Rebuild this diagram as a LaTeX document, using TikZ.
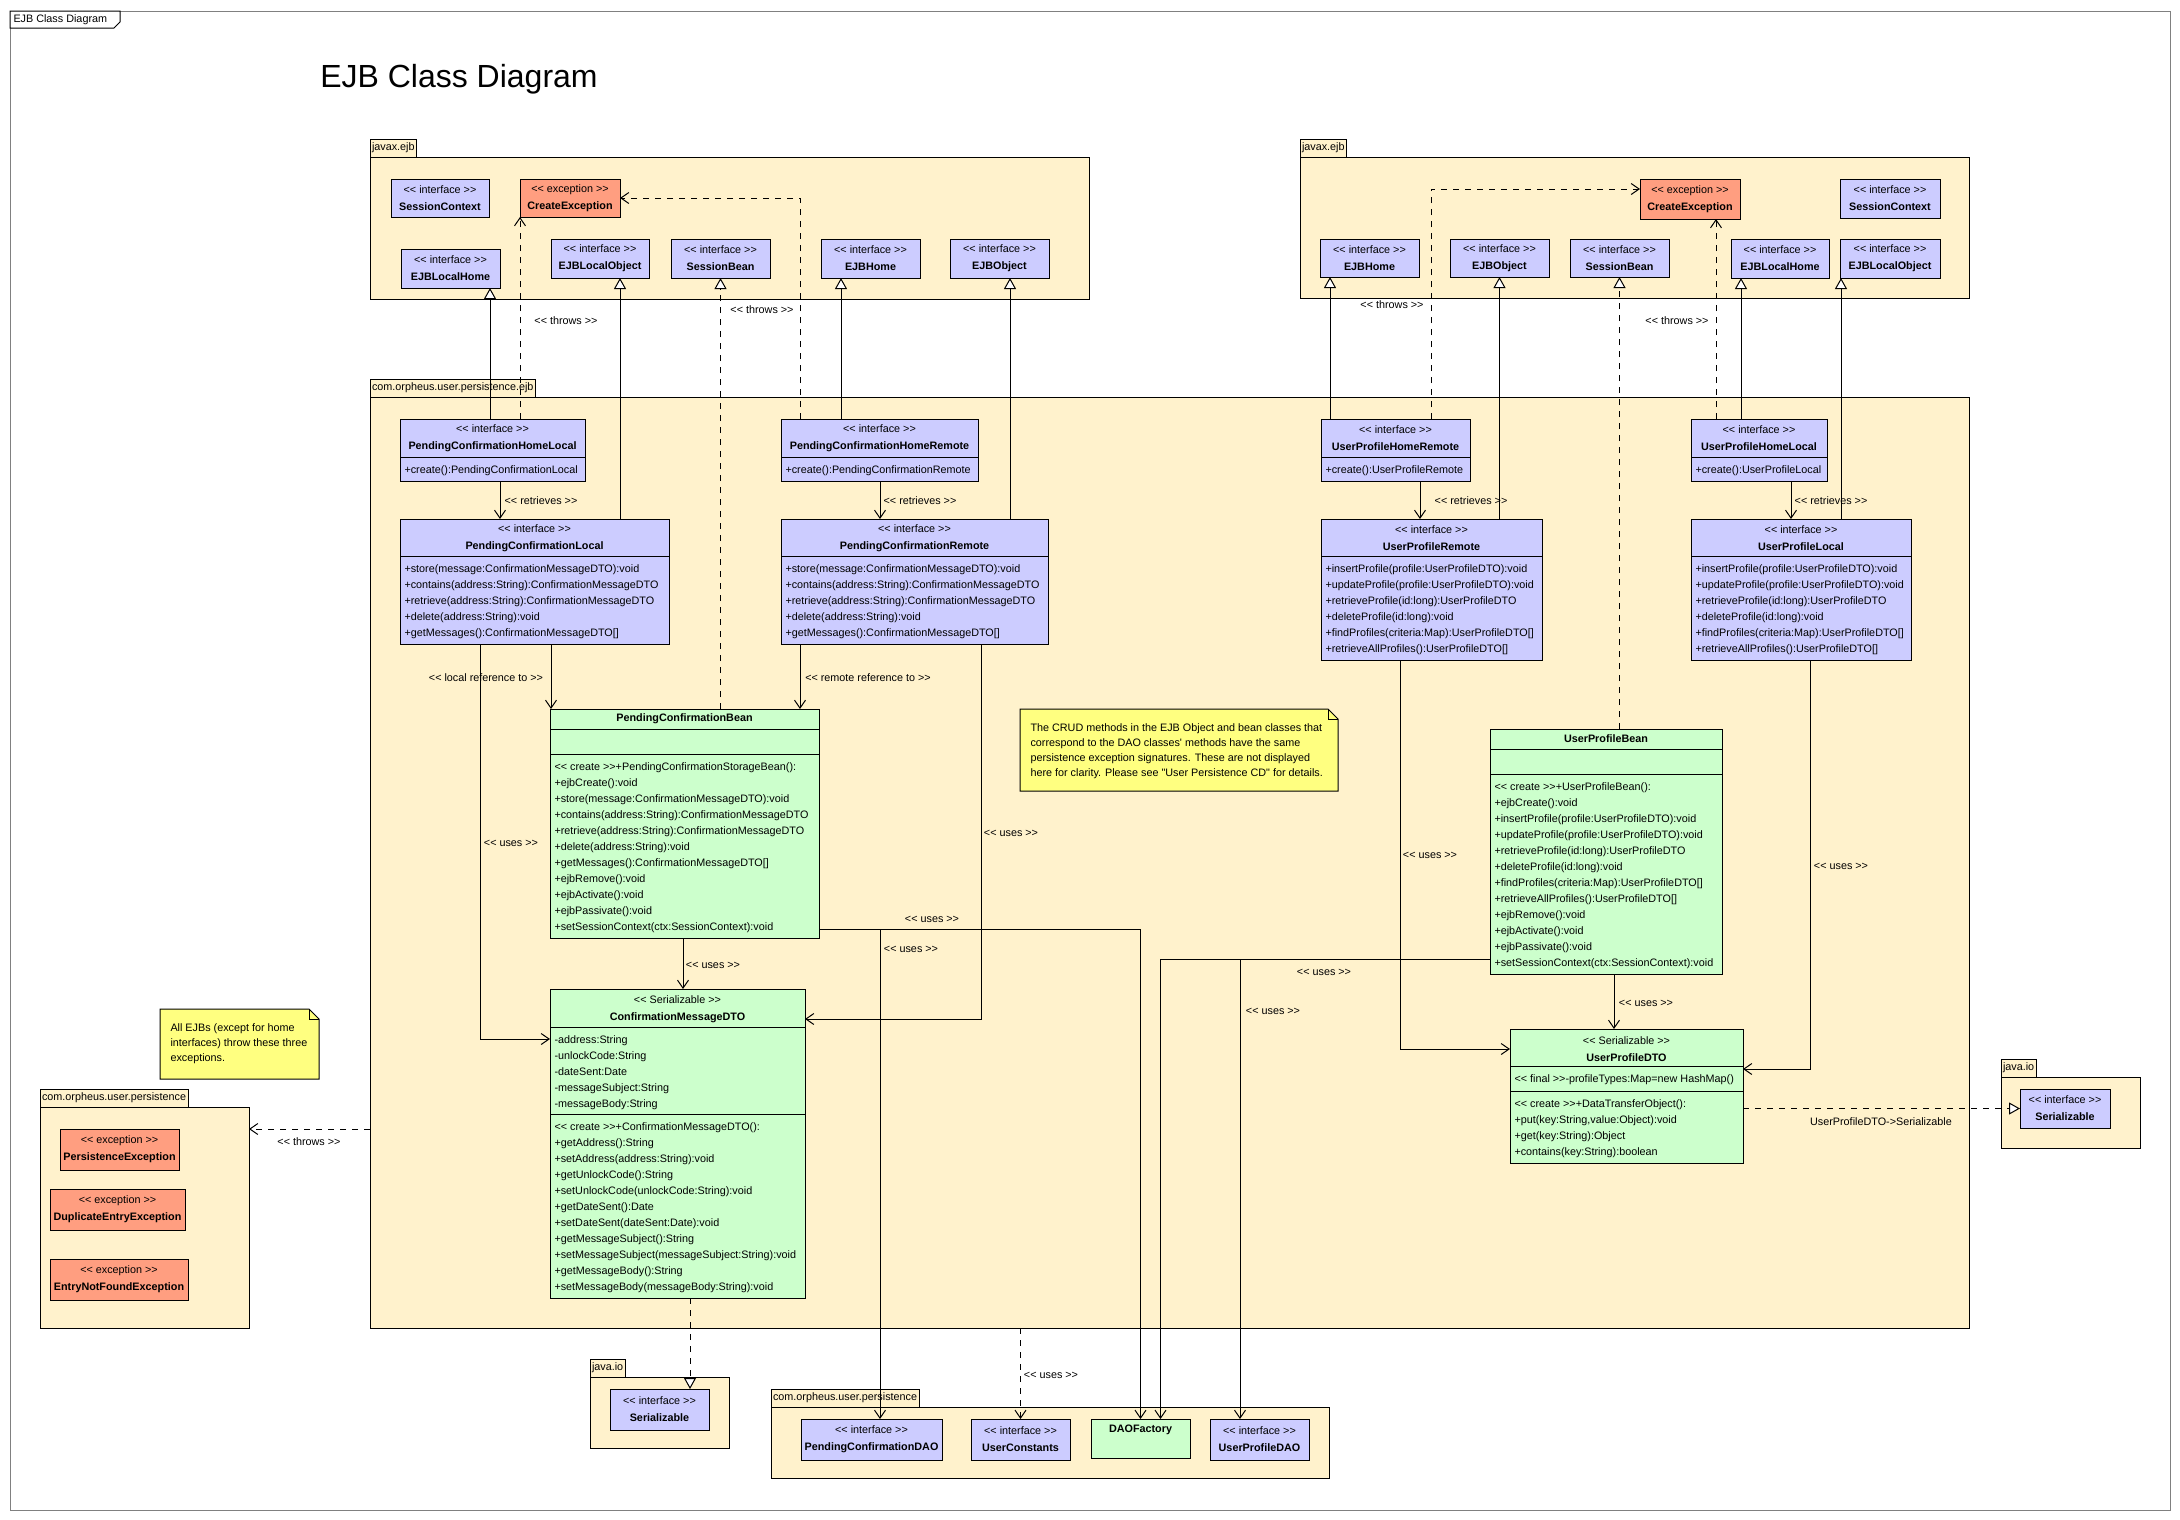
\documentclass[tikz,border=0pt]{standalone}
\usepackage{fontspec}
\setmainfont{Liberation Sans}[Ligatures=TeXOff]
\usepackage{tikz}
\usetikzlibrary{arrows.meta,positioning}

\definecolor{pkgfill}{RGB}{255,242,204}
\definecolor{ifacefill}{RGB}{204,204,255}
\definecolor{excfill}{RGB}{255,158,128}
\definecolor{beanfill}{RGB}{204,255,204}
\definecolor{notefill}{RGB}{255,255,128}
\definecolor{framegray}{RGB}{128,128,128}

\newcommand{\stereo}[1]{<< #1 >>}

\begin{document}
\begin{tikzpicture}[x=1pt,y=-1pt,line width=1pt,
  font=\fontsize{10.8}{16}\selectfont,
  box/.style 2 args={minimum width=#1,minimum height=#2,anchor=north west,inner sep=0pt,outer sep=0pt},
  pkg/.style={draw,fill=pkgfill},
  tab/.style={draw,fill=pkgfill,inner xsep=2pt,inner ysep=0pt,minimum height=18pt,outer sep=0pt},
  iface/.style={draw,fill=ifacefill,align=center,font=\fontsize{10.8}{17}\selectfont},
  exc/.style={draw,fill=excfill,align=center,font=\fontsize{10.8}{17}\selectfont},
  bean/.style={draw,fill=beanfill},
  head/.style={align=center,inner sep=0pt,font=\fontsize{10.8}{17}\selectfont},
  ops/.style={anchor=north west,align=left,inner xsep=4pt,inner ysep=8pt},
  notetext/.style={anchor=north west,align=left,inner sep=0pt,font=\fontsize{10.8}{15}\selectfont},
  lbl/.style={inner sep=0pt},
  dashes/.style={dash pattern=on 6pt off 6pt},
  gen/.style={-{Triangle[length=11pt,width=12pt,fill=white]}},
  real/.style={gen,dashes},
  dep/.style={-{Straight Barb[length=8pt,width=11pt]}},
  dashdep/.style={dep,dashes}
]
\useasboundingbox (0,0) rectangle (2180,1519);

% frame
\draw[framegray] (10,11) rectangle (2170,1510);
\draw[fill=white] (10,11) -- (120,11) -- (120,22) -- (114,28) -- (10,28) -- cycle;
\node[anchor=west,inner sep=0pt] (frametitle) at (13,20) {EJB Class Diagram};
\node[inner sep=0pt,font=\fontsize{32}{38}\selectfont] (title) at (459,79) {EJB Class Diagram};

% packages
\node[pkg,box={719pt}{142pt}] (jl) at (370,157) {};
\node[tab,above right=0pt of jl.north west] (jltab) {javax.ejb};
\node[pkg,box={669pt}{141pt}] (jr) at (1300,157) {};
\node[tab,above right=0pt of jr.north west] (jrtab) {javax.ejb};
\node[pkg,box={1599pt}{931pt}] (ejb) at (370,397) {};
\node[tab,above right=0pt of ejb.north west] (ejbtab) {com.orpheus.user.persistence.ejb};
\node[pkg,box={209pt}{221pt}] (pers) at (40,1107) {};
\node[tab,above right=0pt of pers.north west] (perstab) {com.orpheus.user.persistence};
\node[pkg,box={139pt}{71pt}] (jio) at (590,1377) {};
\node[tab,above right=0pt of jio.north west] (jiotab) {java.io};
\node[pkg,box={558pt}{71pt}] (dao) at (771,1407) {};
\node[tab,above right=0pt of dao.north west] (daotab) {com.orpheus.user.persistence};
\node[pkg,box={139pt}{71pt}] (jio2) at (2001,1077) {};
\node[tab,above right=0pt of jio2.north west] (jio2tab) {java.io};

% javax.ejb, left
\node[iface,box={98pt}{38pt}] (sc1) at (391,179) {\stereo{interface}\\\textbf{SessionContext}};
\node[exc,box={100pt}{38pt}] (ce1) at (520,179) {\stereo{exception}\\\textbf{CreateException}};
\node[iface,box={99pt}{39pt}] (elh1) at (401,249) {\stereo{interface}\\\textbf{EJBLocalHome}};
\node[iface,box={98pt}{39pt}] (elo1) at (551,239) {\stereo{interface}\\\textbf{EJBLocalObject}};
\node[iface,box={99pt}{39pt}] (sb1) at (671,239) {\stereo{interface}\\\textbf{SessionBean}};
\node[iface,box={99pt}{39pt}] (eh1) at (821,239) {\stereo{interface}\\\textbf{EJBHome}};
\node[iface,box={99pt}{39pt}] (eo1) at (950,239) {\stereo{interface}\\\textbf{EJBObject}};

% javax.ejb, right
\node[exc,box={100pt}{40pt}] (ce2) at (1640,179) {\stereo{exception}\\\textbf{CreateException}};
\node[iface,box={100pt}{39pt}] (sc2) at (1840,179) {\stereo{interface}\\\textbf{SessionContext}};
\node[iface,box={99pt}{38pt}] (eh2) at (1320,239) {\stereo{interface}\\\textbf{EJBHome}};
\node[iface,box={99pt}{38pt}] (eo2) at (1450,239) {\stereo{interface}\\\textbf{EJBObject}};
\node[iface,box={99pt}{38pt}] (sb2) at (1570,239) {\stereo{interface}\\\textbf{SessionBean}};
\node[iface,box={98pt}{39pt}] (elh2) at (1731,239) {\stereo{interface}\\\textbf{EJBLocalHome}};
\node[iface,box={100pt}{39pt}] (elo2) at (1840,239) {\stereo{interface}\\\textbf{EJBLocalObject}};

% pending confirmation
\node[iface,box={185pt}{62pt}] (pchl) at (400,419) {};
\node[head] (pchlh) at ([yshift=-19pt]pchl.north) {\stereo{interface}\\\textbf{PendingConfirmationHomeLocal}};
\draw ([yshift=-38pt]pchl.north west) -- ([yshift=-38pt]pchl.north east);
\node[ops] (pchlo) at ([yshift=-38pt]pchl.north west) {+create():PendingConfirmationLocal};

\node[iface,box={269pt}{125pt}] (pcl) at (400,519) {};
\node[head] (pclh) at ([yshift=-19pt]pcl.north) {\stereo{interface}\\\textbf{PendingConfirmationLocal}};
\draw ([yshift=-37pt]pcl.north west) -- ([yshift=-37pt]pcl.north east);
\node[ops] (pclo) at ([yshift=-37pt]pcl.north west) {+store(message:ConfirmationMessageDTO):void\\+contains(address:String):ConfirmationMessageDTO\\+retrieve(address:String):ConfirmationMessageDTO\\+delete(address:String):void\\+getMessages():ConfirmationMessageDTO[]};

\node[iface,box={197pt}{62pt}] (pchr) at (781,419) {};
\node[head] (pchrh) at ([yshift=-19pt]pchr.north) {\stereo{interface}\\\textbf{PendingConfirmationHomeRemote}};
\draw ([yshift=-38pt]pchr.north west) -- ([yshift=-38pt]pchr.north east);
\node[ops] (pchro) at ([yshift=-38pt]pchr.north west) {+create():PendingConfirmationRemote};

\node[iface,box={267pt}{125pt}] (pcr) at (781,519) {};
\node[head] (pcrh) at ([yshift=-19pt]pcr.north) {\stereo{interface}\\\textbf{PendingConfirmationRemote}};
\draw ([yshift=-37pt]pcr.north west) -- ([yshift=-37pt]pcr.north east);
\node[ops] (pcro) at ([yshift=-37pt]pcr.north west) {+store(message:ConfirmationMessageDTO):void\\+contains(address:String):ConfirmationMessageDTO\\+retrieve(address:String):ConfirmationMessageDTO\\+delete(address:String):void\\+getMessages():ConfirmationMessageDTO[]};

\node[bean,box={269pt}{229pt}] (pcb) at (550,709) {};
\node[head] (pcbh) at ([yshift=-10pt]pcb.north) {\textbf{PendingConfirmationBean}};
\draw ([yshift=-20pt]pcb.north west) -- ([yshift=-20pt]pcb.north east);
\draw ([yshift=-45pt]pcb.north west) -- ([yshift=-45pt]pcb.north east);
\node[ops] (pcbo) at ([yshift=-45pt]pcb.north west) {\stereo{create}+PendingConfirmationStorageBean():\\+ejbCreate():void\\+store(message:ConfirmationMessageDTO):void\\+contains(address:String):ConfirmationMessageDTO\\+retrieve(address:String):ConfirmationMessageDTO\\+delete(address:String):void\\+getMessages():ConfirmationMessageDTO[]\\+ejbRemove():void\\+ejbActivate():void\\+ejbPassivate():void\\+setSessionContext(ctx:SessionContext):void};

\node[bean,box={255pt}{309pt}] (cmdto) at (550,989) {};
\node[head] (cmdtoh) at ([yshift=-20pt]cmdto.north) {\stereo{Serializable}\\\textbf{ConfirmationMessageDTO}};
\draw ([yshift=-38pt]cmdto.north west) -- ([yshift=-38pt]cmdto.north east);
\node[ops] (cmdtoa) at ([yshift=-38pt]cmdto.north west) {-address:String\\-unlockCode:String\\-dateSent:Date\\-messageSubject:String\\-messageBody:String};
\draw ([yshift=-125pt]cmdto.north west) -- ([yshift=-125pt]cmdto.north east);
\node[ops] (cmdtoo) at ([yshift=-125pt]cmdto.north west) {\stereo{create}+ConfirmationMessageDTO():\\+getAddress():String\\+setAddress(address:String):void\\+getUnlockCode():String\\+setUnlockCode(unlockCode:String):void\\+getDateSent():Date\\+setDateSent(dateSent:Date):void\\+getMessageSubject():String\\+setMessageSubject(messageSubject:String):void\\+getMessageBody():String\\+setMessageBody(messageBody:String):void};

% user profile
\node[iface,box={149pt}{62pt}] (uphr) at (1321,419) {};
\node[head] (uphrh) at ([yshift=-19pt]uphr.north) {\stereo{interface}\\\textbf{UserProfileHomeRemote}};
\draw ([yshift=-38pt]uphr.north west) -- ([yshift=-38pt]uphr.north east);
\node[ops] (uphro) at ([yshift=-38pt]uphr.north west) {+create():UserProfileRemote};

\node[iface,box={221pt}{141pt}] (upr) at (1321,519) {};
\node[head] (uprh) at ([yshift=-19pt]upr.north) {\stereo{interface}\\\textbf{UserProfileRemote}};
\draw ([yshift=-37pt]upr.north west) -- ([yshift=-37pt]upr.north east);
\node[ops] (upro) at ([yshift=-37pt]upr.north west) {+insertProfile(profile:UserProfileDTO):void\\+updateProfile(profile:UserProfileDTO):void\\+retrieveProfile(id:long):UserProfileDTO\\+deleteProfile(id:long):void\\+findProfiles(criteria:Map):UserProfileDTO[]\\+retrieveAllProfiles():UserProfileDTO[]};

\node[iface,box={136pt}{62pt}] (uphl) at (1691,419) {};
\node[head] (uphlh) at ([yshift=-19pt]uphl.north) {\stereo{interface}\\\textbf{UserProfileHomeLocal}};
\draw ([yshift=-38pt]uphl.north west) -- ([yshift=-38pt]uphl.north east);
\node[ops] (uphlo) at ([yshift=-38pt]uphl.north west) {+create():UserProfileLocal};

\node[iface,box={220pt}{141pt}] (upl) at (1691,519) {};
\node[head] (uplh) at ([yshift=-19pt]upl.north) {\stereo{interface}\\\textbf{UserProfileLocal}};
\draw ([yshift=-37pt]upl.north west) -- ([yshift=-37pt]upl.north east);
\node[ops] (uplo) at ([yshift=-37pt]upl.north west) {+insertProfile(profile:UserProfileDTO):void\\+updateProfile(profile:UserProfileDTO):void\\+retrieveProfile(id:long):UserProfileDTO\\+deleteProfile(id:long):void\\+findProfiles(criteria:Map):UserProfileDTO[]\\+retrieveAllProfiles():UserProfileDTO[]};

\node[bean,box={232pt}{245pt}] (upb) at (1490,729) {};
\node[head] (upbh) at ([yshift=-10pt]upb.north) {\textbf{UserProfileBean}};
\draw ([yshift=-20pt]upb.north west) -- ([yshift=-20pt]upb.north east);
\draw ([yshift=-45pt]upb.north west) -- ([yshift=-45pt]upb.north east);
\node[ops] (upbo) at ([yshift=-45pt]upb.north west) {\stereo{create}+UserProfileBean():\\+ejbCreate():void\\+insertProfile(profile:UserProfileDTO):void\\+updateProfile(profile:UserProfileDTO):void\\+retrieveProfile(id:long):UserProfileDTO\\+deleteProfile(id:long):void\\+findProfiles(criteria:Map):UserProfileDTO[]\\+retrieveAllProfiles():UserProfileDTO[]\\+ejbRemove():void\\+ejbActivate():void\\+ejbPassivate():void\\+setSessionContext(ctx:SessionContext):void};

\node[bean,box={233pt}{134pt}] (updto) at (1510,1029) {};
\node[head] (updtoh) at ([yshift=-20pt]updto.north) {\stereo{Serializable}\\\textbf{UserProfileDTO}};
\draw ([yshift=-37pt]updto.north west) -- ([yshift=-37pt]updto.north east);
\node[ops] (updtoa) at ([yshift=-37pt]updto.north west) {\stereo{final}-profileTypes:Map=new HashMap()};
\draw ([yshift=-62pt]updto.north west) -- ([yshift=-62pt]updto.north east);
\node[ops] (updtoo) at ([yshift=-62pt]updto.north west) {\stereo{create}+DataTransferObject():\\+put(key:String,value:Object):void\\+get(key:String):Object\\+contains(key:String):boolean};

% notes
\node[box={318pt}{82pt}] (crud) at (1020,709) {};
\filldraw[fill=notefill] (crud.north west) -- ([xshift=-10pt]crud.north east) -- ([yshift=-10pt]crud.north east) -- (crud.south east) -- (crud.south west) -- cycle;
\draw ([xshift=-10pt]crud.north east) |- ([yshift=-10pt]crud.north east);
\node[notetext] (crudtxt) at ([xshift=10pt,yshift=-14pt]crud.north west) {The CRUD methods in the EJB Object and bean classes that\\correspond to the DAO classes' methods have the same\\persistence exception signatures. These are not displayed\\here for clarity. Please see "User Persistence CD" for details.};

\node[box={159pt}{70pt}] (allejb) at (160,1009) {};
\filldraw[fill=notefill] (allejb.north west) -- ([xshift=-10pt]allejb.north east) -- ([yshift=-10pt]allejb.north east) -- (allejb.south east) -- (allejb.south west) -- cycle;
\draw ([xshift=-10pt]allejb.north east) |- ([yshift=-10pt]allejb.north east);
\node[notetext] (allejbtxt) at ([xshift=10pt,yshift=-14pt]allejb.north west) {All EJBs (except for home\\interfaces) throw these three\\exceptions.};

% exceptions
\node[exc,box={119pt}{41pt}] (pe) at (60,1129) {\stereo{exception}\\\textbf{PersistenceException}};
\node[exc,box={135pt}{41pt}] (dee) at (50,1189) {\stereo{exception}\\\textbf{DuplicateEntryException}};
\node[exc,box={138pt}{41pt}] (enfe) at (50,1259) {\stereo{exception}\\\textbf{EntryNotFoundException}};

% java.io and dao
\node[iface,box={99pt}{41pt}] (ser1) at (610,1389) {\stereo{interface}\\\textbf{Serializable}};
\node[iface,box={90pt}{39pt}] (ser2) at (2020,1089) {\stereo{interface}\\\textbf{Serializable}};
\node[iface,box={141pt}{41pt}] (pcdao) at (801,1419) {\stereo{interface}\\\textbf{PendingConfirmationDAO}};
\node[iface,box={99pt}{41pt}] (uc) at (971,1419) {\stereo{interface}\\\textbf{UserConstants}};
\node[bean,box={99pt}{39pt}] (daof) at (1091,1419) {};
\node[head] (daofh) at ([yshift=-11pt]daof.north) {\textbf{DAOFactory}};
\node[iface,box={99pt}{41pt}] (updao) at (1210,1419) {\stereo{interface}\\\textbf{UserProfileDAO}};

% connectors, left
\draw[gen] ([xshift=90pt]pchl.north west) -- ([xshift=90pt]pchl.north west |- elh1.south);
\draw[dashdep] (ce1.south west |- pchl.north) -- (ce1.south west);
\draw[gen] ([xshift=220pt]pcl.north west) -- ([xshift=220pt]pcl.north west |- elo1.south);
\draw[real] (sb1.south |- pcb.north) -- (sb1.south);
\draw[gen] ([xshift=60pt]pchr.north west) -- ([xshift=60pt]pchr.north west |- eh1.south);
\draw[dashdep] ([xshift=19pt]pchr.north west) |- (ce1.east);
\draw[gen] ([xshift=229pt]pcr.north west) -- ([xshift=229pt]pcr.north west |- eo1.south);
\draw[dep] ([xshift=100pt]pchl.south west) -- ([xshift=100pt]pcl.north west);
\draw[dep] ([xshift=99pt]pchr.south west) -- ([xshift=99pt]pcr.north west);
\draw[dep] ([xshift=151pt]pcl.south west) -- ([xshift=151pt]pcl.south west |- pcb.north);
\draw[dep] ([xshift=19pt]pcr.south west) -- ([xshift=19pt]pcr.south west |- pcb.north);
\draw[dep] ([xshift=80pt]pcl.south west) |- ([yshift=-50pt]cmdto.north west);
\draw[dep] ([xshift=200pt]pcr.south west) |- ([yshift=-30pt]cmdto.north east);
\draw[dep] ([xshift=133pt]pcb.south west) -- ([xshift=133pt]pcb.south west |- cmdto.north);
\draw[dep] ([yshift=9pt]pcb.south east) -| (daof.north);
\draw[dep] ([yshift=9pt]pcb.south east) -| ([xshift=79pt]pcdao.north west);
\draw[real] ([xshift=140pt]cmdto.south west) -- ([xshift=140pt]cmdto.south west |- ser1.north);
\draw[dashdep] (pe.north -| ejb.west) -- (pe.north -| pers.east);
\draw[dashdep] (uc.north |- ejb.south) -- (uc.north);

% connectors, right
\draw[gen] ([xshift=9pt]uphr.north west) -- ([xshift=9pt]uphr.north west |- eh2.south);
\draw[dashdep] ([xshift=110pt]uphr.north west) |- ([yshift=-10pt]ce2.north west);
\draw[gen] (eo2.south |- upr.north) -- (eo2.south);
\draw[real] (sb2.south |- upb.north) -- (sb2.south);
\draw[dashdep] ([xshift=25pt]uphl.north west) -- ([xshift=25pt]uphl.north west |- ce2.south);
\draw[gen] ([xshift=50pt]uphl.north west) -- ([xshift=50pt]uphl.north west |- elh2.south);
\draw[gen] ([xshift=150pt]upl.north west) -- ([xshift=150pt]upl.north west |- elo2.south);
\draw[dep] ([xshift=99pt]uphr.south west) -- ([xshift=99pt]upr.north west);
\draw[dep] ([xshift=100pt]uphl.south west) -- ([xshift=100pt]upl.north west);
\draw[dep] ([xshift=79pt]upr.south west) |- ([yshift=-20pt]updto.north west);
\draw[dep] ([xshift=119pt]upl.south west) |- ([yshift=-40pt]updto.north east);
\draw[dep] ([xshift=124pt]upb.south west) -- ([xshift=124pt]upb.south west |- updto.north);
\draw[dep] ([yshift=15pt]upb.south west) -| ([xshift=20pt]daof.north);
\draw[dep] ([yshift=15pt]upb.south west) -| ([xshift=30pt]updao.north west);
\draw[real] (ser2.west -| updto.east) -- (ser2.west);

% labels
\node[lbl] (thr1) at (566,321) {\stereo{throws}};
\node[lbl] (thr2) at (762,310) {\stereo{throws}};
\node[lbl] (thr3) at (309,1142) {\stereo{throws}};
\node[lbl] (thr4) at (1392,305) {\stereo{throws}};
\node[lbl] (thr5) at (1677,321) {\stereo{throws}};
\node[lbl] (ret1) at (541,501) {\stereo{retrieves}};
\node[lbl] (ret2) at (920,501) {\stereo{retrieves}};
\node[lbl] (ret3) at (1471,501) {\stereo{retrieves}};
\node[lbl] (ret4) at (1831,501) {\stereo{retrieves}};
\node[lbl] (lref) at (486,678) {\stereo{local reference to}};
\node[lbl] (rref) at (868,678) {\stereo{remote reference to}};
\node[lbl] (use1) at (511,843) {\stereo{uses}};
\node[lbl] (use2) at (1011,833) {\stereo{uses}};
\node[lbl] (use3) at (713,965) {\stereo{uses}};
\node[lbl] (use4) at (932,919) {\stereo{uses}};
\node[lbl] (use5) at (911,949) {\stereo{uses}};
\node[lbl] (use6) at (1051,1375) {\stereo{uses}};
\node[lbl] (use7) at (1430,855) {\stereo{uses}};
\node[lbl] (use8) at (1841,866) {\stereo{uses}};
\node[lbl] (use9) at (1646,1003) {\stereo{uses}};
\node[lbl] (use10) at (1324,972) {\stereo{uses}};
\node[lbl] (use11) at (1273,1011) {\stereo{uses}};
\node[lbl] (serlbl) at (1881,1122) {UserProfileDTO->Serializable};
\end{tikzpicture}
\end{document}
